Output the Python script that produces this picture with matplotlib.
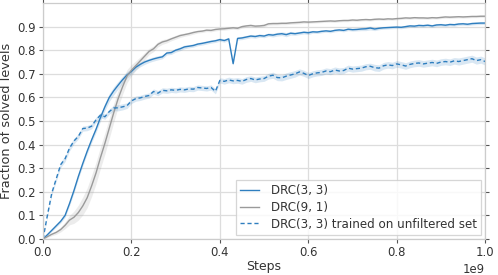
import numpy as np
import matplotlib
matplotlib.use("Agg")
import matplotlib.pyplot as plt

# steps, in units of 1e9
steps = [i / 100 for i in range(101)]

drc33 = [0.000, 0.018, 0.037, 0.056, 0.075, 0.100, 0.150, 0.205, 0.265, 0.320,
         0.372, 0.420, 0.465, 0.515, 0.560, 0.600, 0.628, 0.652, 0.675, 0.695,
         0.710, 0.728, 0.740, 0.750, 0.757, 0.763, 0.768, 0.772, 0.788, 0.790,
         0.800, 0.806, 0.814, 0.817, 0.820, 0.826, 0.829, 0.833, 0.837, 0.840,
         0.845, 0.841, 0.848, 0.743, 0.850, 0.852, 0.856, 0.860, 0.858, 0.862,
         0.860, 0.866, 0.864, 0.868, 0.870, 0.866, 0.872, 0.870, 0.873, 0.876,
         0.874, 0.878, 0.877, 0.880, 0.882, 0.880, 0.884, 0.886, 0.884, 0.889,
         0.887, 0.888, 0.890, 0.891, 0.894, 0.890, 0.893, 0.895, 0.896, 0.897,
         0.898, 0.897, 0.900, 0.903, 0.902, 0.905, 0.904, 0.906, 0.903, 0.907,
         0.908, 0.906, 0.909, 0.908, 0.911, 0.912, 0.910, 0.913, 0.914, 0.915,
         0.915]

drc91 = [0.000, 0.010, 0.020, 0.028, 0.040, 0.058, 0.080, 0.092, 0.112, 0.140,
         0.175, 0.225, 0.280, 0.345, 0.405, 0.470, 0.535, 0.595, 0.645, 0.690,
         0.715, 0.735, 0.755, 0.775, 0.795, 0.806, 0.825, 0.835, 0.840, 0.848,
         0.855, 0.862, 0.866, 0.870, 0.875, 0.879, 0.881, 0.885, 0.884, 0.888,
         0.890, 0.891, 0.893, 0.895, 0.893, 0.900, 0.903, 0.905, 0.902, 0.903,
         0.905, 0.912, 0.913, 0.913, 0.914, 0.914, 0.916, 0.917, 0.918, 0.920,
         0.919, 0.920, 0.921, 0.922, 0.923, 0.924, 0.923, 0.925, 0.926, 0.926,
         0.928, 0.927, 0.929, 0.930, 0.929, 0.931, 0.932, 0.931, 0.933, 0.932,
         0.934, 0.935, 0.937, 0.936, 0.938, 0.937, 0.937, 0.936, 0.938, 0.937,
         0.939, 0.941, 0.940, 0.941, 0.942, 0.941, 0.942, 0.943, 0.943, 0.944,
         0.944]

drc33_unfilt = [0.000, 0.100, 0.195, 0.255, 0.315, 0.340, 0.385, 0.415, 0.435, 0.468,
                0.470, 0.478, 0.505, 0.525, 0.518, 0.540, 0.555, 0.556, 0.560, 0.565,
                0.585, 0.595, 0.598, 0.604, 0.608, 0.625, 0.618, 0.630, 0.628, 0.632,
                0.630, 0.634, 0.632, 0.636, 0.635, 0.642, 0.640, 0.638, 0.642, 0.626,
                0.672, 0.668, 0.674, 0.670, 0.672, 0.668, 0.676, 0.680, 0.674, 0.678,
                0.680, 0.690, 0.694, 0.684, 0.683, 0.690, 0.695, 0.700, 0.708, 0.702,
                0.693, 0.700, 0.704, 0.706, 0.712, 0.709, 0.716, 0.712, 0.714, 0.724,
                0.720, 0.722, 0.724, 0.730, 0.732, 0.726, 0.724, 0.734, 0.738, 0.735,
                0.742, 0.738, 0.733, 0.740, 0.744, 0.746, 0.742, 0.745, 0.748, 0.744,
                0.750, 0.752, 0.749, 0.755, 0.752, 0.756, 0.760, 0.764, 0.756, 0.760,
                0.752]

# half-width of the shaded bands
drc33_err = [0.002, 0.004, 0.005, 0.006, 0.007, 0.008, 0.009, 0.010, 0.010, 0.010,
             0.011, 0.012, 0.013, 0.015, 0.016, 0.017, 0.017, 0.016, 0.015, 0.014,
             0.012, 0.011, 0.010, 0.010, 0.009, 0.009, 0.009, 0.008, 0.008, 0.008,
             0.008, 0.008, 0.008, 0.007, 0.007, 0.007, 0.007, 0.007, 0.007, 0.007,
             0.007, 0.007, 0.007, 0.006, 0.007, 0.007, 0.007, 0.007, 0.007, 0.007,
             0.007, 0.007, 0.008, 0.008, 0.008, 0.009, 0.008, 0.007, 0.007, 0.007,
             0.007, 0.006, 0.006, 0.006, 0.006, 0.006, 0.006, 0.006, 0.006, 0.006,
             0.006, 0.006, 0.007, 0.008, 0.008, 0.007, 0.006, 0.006, 0.006, 0.006,
             0.006, 0.006, 0.006, 0.006, 0.006, 0.006, 0.006, 0.006, 0.006, 0.006,
             0.006, 0.006, 0.006, 0.006, 0.006, 0.006, 0.006, 0.006, 0.006, 0.006,
             0.006]

drc91_err = [0.002, 0.004, 0.006, 0.008, 0.010, 0.014, 0.020, 0.026, 0.032, 0.038,
             0.042, 0.045, 0.046, 0.046, 0.045, 0.043, 0.040, 0.036, 0.032, 0.028,
             0.024, 0.020, 0.017, 0.015, 0.013, 0.012, 0.011, 0.010, 0.009, 0.008,
             0.008, 0.008, 0.007, 0.007, 0.007, 0.006, 0.006, 0.006, 0.006, 0.006,
             0.006, 0.006, 0.006, 0.006, 0.006, 0.006, 0.006, 0.006, 0.006, 0.006,
             0.006, 0.006, 0.006, 0.006, 0.006, 0.006, 0.006, 0.006, 0.006, 0.006,
             0.005, 0.005, 0.005, 0.005, 0.005, 0.005, 0.005, 0.005, 0.005, 0.005,
             0.005, 0.005, 0.005, 0.005, 0.005, 0.005, 0.005, 0.005, 0.005, 0.005,
             0.005, 0.005, 0.005, 0.005, 0.005, 0.005, 0.005, 0.005, 0.005, 0.005,
             0.005, 0.005, 0.005, 0.005, 0.005, 0.005, 0.005, 0.005, 0.005, 0.005,
             0.005]

unfilt_err = [0.002, 0.006, 0.008, 0.010, 0.012, 0.012, 0.012, 0.012, 0.011, 0.011,
              0.011, 0.011, 0.011, 0.011, 0.011, 0.011, 0.012, 0.013, 0.013, 0.012,
              0.011, 0.011, 0.011, 0.011, 0.011, 0.011, 0.011, 0.011, 0.011, 0.011,
              0.011, 0.011, 0.011, 0.011, 0.011, 0.011, 0.011, 0.011, 0.011, 0.011,
              0.011, 0.012, 0.012, 0.012, 0.012, 0.012, 0.012, 0.012, 0.012, 0.012,
              0.012, 0.012, 0.013, 0.013, 0.013, 0.014, 0.014, 0.014, 0.013, 0.013,
              0.013, 0.013, 0.013, 0.013, 0.013, 0.013, 0.013, 0.013, 0.013, 0.013,
              0.013, 0.013, 0.013, 0.013, 0.013, 0.014, 0.014, 0.014, 0.014, 0.014,
              0.014, 0.014, 0.014, 0.014, 0.014, 0.014, 0.014, 0.014, 0.014, 0.014,
              0.014, 0.014, 0.014, 0.014, 0.015, 0.015, 0.015, 0.015, 0.015, 0.015,
              0.015]

BLUE = "#2e7ebf"
GRAY = "#9a9a9a"
TEXT = "#333333"

x = np.array(steps) * 1e9

fig = plt.figure(figsize=(4.98, 2.75), dpi=100)
ax = fig.add_axes([0.0863, 0.131, 0.888, 0.858])

series = [
    (drc33, drc33_err, BLUE, "-", "DRC(3, 3)"),
    (drc91, drc91_err, GRAY, "-", "DRC(9, 1)"),
    (drc33_unfilt, unfilt_err, BLUE, (0, (3, 2)), "DRC(3, 3) trained on unfiltered set"),
]
for y, e, c, ls, lab in series:
    y = np.array(y)
    e = np.array(e)
    ax.fill_between(x, y - e, y + e, color=c, alpha=0.18, linewidth=0)
    ax.plot(x, y, color=c, linestyle=ls, linewidth=1.0, label=lab)

ax.set_xlim(0, 1e9)
ax.set_ylim(0, 1.0)
ax.set_xticks([0, 0.2e9, 0.4e9, 0.6e9, 0.8e9, 1.0e9])
ax.set_yticks(np.arange(0, 0.95, 0.1))
ax.grid(True, color="#dddddd", linewidth=0.9)
ax.set_axisbelow(True)

for sp in ax.spines.values():
    sp.set_color("#cccccc")
    sp.set_linewidth(0.9)
ax.tick_params(which="both", direction="out", length=3, width=0.8, color="#555555",
               labelsize=8.4, labelcolor=TEXT, top=True, right=True,
               labeltop=False, labelright=False, pad=2)
ax.xaxis.get_offset_text().set_fontsize(8.4)
ax.xaxis.get_offset_text().set_color(TEXT)

ax.set_xlabel("Steps", fontsize=9, color=TEXT, labelpad=1)
ax.set_ylabel("Fraction of solved levels", fontsize=9.3, color=TEXT, labelpad=3)

leg = ax.legend(loc="lower right", fontsize=8.6, frameon=True, fancybox=False,
                borderaxespad=0.35, borderpad=0.35, labelspacing=0.3,
                handlelength=1.6, handletextpad=1.0, labelcolor=TEXT)
leg.get_frame().set_edgecolor("#cccccc")
leg.get_frame().set_linewidth(0.9)

fig.savefig("out.png", dpi=100)
